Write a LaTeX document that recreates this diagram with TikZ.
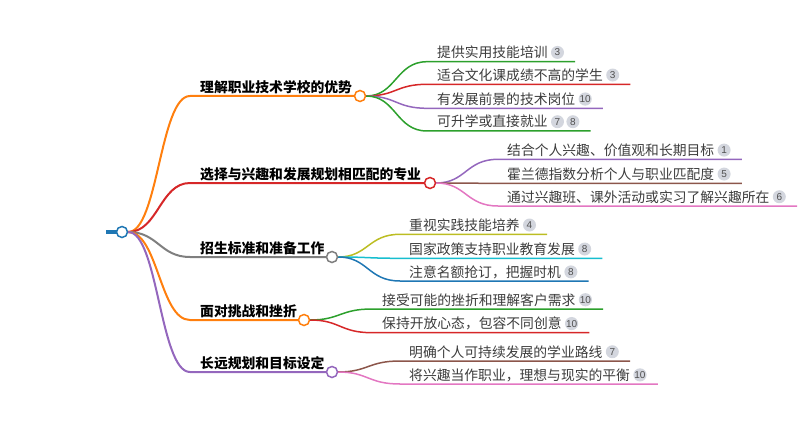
\documentclass[tikz,border=0pt]{standalone}
\usepackage{fontspec}
\newfontfamily\cjk{Noto Sans CJK SC}
\newfontfamily\numfont{Liberation Sans}
\usetikzlibrary{positioning,calc}

\definecolor{cblue}{HTML}{1F77B4}
\definecolor{corange}{HTML}{FF7F0E}
\definecolor{cgreen}{HTML}{2CA02C}
\definecolor{cred}{HTML}{D62728}
\definecolor{cpurple}{HTML}{9467BD}
\definecolor{cbrown}{HTML}{8C564B}
\definecolor{cpink}{HTML}{E377C2}
\definecolor{cgray}{HTML}{7F7F7F}
\definecolor{colive}{HTML}{BCBD22}
\definecolor{ccyan}{HTML}{17BECF}
\definecolor{leaftext}{HTML}{3C3C3C}
\definecolor{badgefill}{HTML}{D3D6DE}
\definecolor{badgetext}{HTML}{505050}

\tikzset{
  branchtext/.style={font=\cjk\bfseries\fontsize{13.8}{14}\selectfont, anchor=base west, inner sep=0pt, text=black},
  leaftext/.style={font=\cjk\fontsize{13.8}{14}\selectfont, anchor=base west, inner sep=0pt, text=leaftext},
  badge/.style={circle, fill=badgefill, inner sep=0pt, minimum size=13pt, font=\numfont\fontsize{10}{10}\selectfont, text=badgetext},
  knot/.style={circle, draw=#1, fill=white, inner sep=0pt, minimum size=11pt, line width=1.5pt},
  trunk/.style={line width=2pt},
  twig/.style={line width=1.5pt},
}

\begin{document}
\begin{tikzpicture}[x=1pt, y=-1pt]
    \useasboundingbox (0,0) rectangle (811,433);
    % root
    \coordinate (stub) at (106,232);
    \draw[cblue, line width=4pt] (stub) -- (117,232);
    \node[knot=cblue] (root) at (122,232) {};
    % main branches
    \node[branchtext] (t1) at (200,92.5) {理解职业技术学校的优势};
    \node[branchtext] (t2) at (200,179.5) {选择与兴趣和发展规划相匹配的专业};
    \node[branchtext] (t3) at (200,253.5) {招生标准和准备工作};
    \node[branchtext] (t4) at (200,316.5) {面对挑战和挫折};
    \node[branchtext] (t5) at (200,368.5) {长远规划和目标设定};
    \node[knot=corange] (b1) at (360,96) {};
    \node[knot=cred] (b2) at (430,183) {};
    \node[knot=cgray] (b3) at (332,257) {};
    \node[knot=corange] (b4) at (304,320) {};
    \node[knot=cpurple] (b5) at (332,372) {};
    \draw[corange, trunk] (root.east) .. controls (158,232) and (160,96) .. (190,96) -- (b1.west);
    \draw[cred, trunk] (root.east) .. controls (158,232) and (160,183) .. (190,183) -- (b2.west);
    \draw[cgray, trunk] (root.east) .. controls (158,232) and (160,257) .. (190,257) -- (b3.west);
    \draw[corange, trunk] (root.east) .. controls (158,232) and (160,320) .. (190,320) -- (b4.west);
    \draw[cpurple, trunk] (root.east) .. controls (158,232) and (160,372) .. (190,372) -- (b5.west);
    % leaves of branch 1
    \foreach \y/\c/\txt/\num [count=\i] in {61.7/cgreen/提供实用技能培训/3, 84.3/cred/适合文化课成绩不高的学生/3, 108.3/cpurple/有发展前景的技术岗位/10} {
      \coordinate (s1\i) at (427,\y);
      \node[leaftext] (l1\i) at (437,\y-4) {\txt};
      \node[badge, right=3pt of l1\i] (n1\i) {\num};
      \draw[\c, twig] (b1.east) .. controls (396,96) and (396,\y) .. (s1\i) -- ($(n1\i.east |- s1\i)+(11,0)$);
    }
    \coordinate (s14) at (427,131);
    \node[leaftext] (l14) at (437,127) {可升学或直接就业};
    \node[badge, right=3pt of l14] (n14) {7};
    \node[badge, right=2pt of n14] (n14b) {8};
    \draw[cgreen, twig] (b1.east) .. controls (396,96) and (396,131) .. (s14) -- ($(n14b.east |- s14)+(11,0)$);
    % leaves of branch 2
    \foreach \y/\c/\txt/\num [count=\i] in {159.3/cpurple/结合个人兴趣、价值观和长期目标/1, 183.3/cbrown/霍兰德指数分析个人与职业匹配度/5, 206/cpink/通过兴趣班、课外活动或实习了解兴趣所在/6} {
      \coordinate (s2\i) at (498,\y);
      \node[leaftext] (l2\i) at (507,\y-4) {\txt};
      \node[badge, right=3pt of l2\i] (n2\i) {\num};
      \draw[\c, twig] (b2.east) .. controls (466,183) and (466,\y) .. (s2\i) -- ($(n2\i.east |- s2\i)+(11,0)$);
    }
    % leaves of branch 3
    \foreach \y/\c/\txt/\num [count=\i] in {234.3/colive/重视实践技能培养/4, 258.3/ccyan/国家政策支持职业教育发展/8, 281/cblue/注意名额抢订，把握时机/8} {
      \coordinate (s3\i) at (400,\y);
      \node[leaftext] (l3\i) at (409,\y-4) {\txt};
      \node[badge, right=3pt of l3\i] (n3\i) {\num};
      \draw[\c, twig] (b3.east) .. controls (368,257) and (368,\y) .. (s3\i) -- ($(n3\i.east |- s3\i)+(11,0)$);
    }
    % leaves of branch 4
    \foreach \y/\c/\txt/\num [count=\i] in {309/cgreen/接受可能的挫折和理解客户需求/10, 332.7/cred/保持开放心态，包容不同创意/10} {
      \coordinate (s4\i) at (372,\y);
      \node[leaftext] (l4\i) at (382,\y-4) {\txt};
      \node[badge, right=3pt of l4\i] (n4\i) {\num};
      \draw[\c, twig] (b4.east) .. controls (340,320) and (340,\y) .. (s4\i) -- ($(n4\i.east |- s4\i)+(11,0)$);
    }
    % leaves of branch 5
    \foreach \y/\c/\txt/\num [count=\i] in {361/cbrown/明确个人可持续发展的学业路线/7, 384/cpink/将兴趣当作职业，理想与现实的平衡/10} {
      \coordinate (s5\i) at (400,\y);
      \node[leaftext] (l5\i) at (409,\y-4) {\txt};
      \node[badge, right=3pt of l5\i] (n5\i) {\num};
      \draw[\c, twig] (b5.east) .. controls (368,372) and (368,\y) .. (s5\i) -- ($(n5\i.east |- s5\i)+(11,0)$);
    }
\end{tikzpicture}
\end{document}
